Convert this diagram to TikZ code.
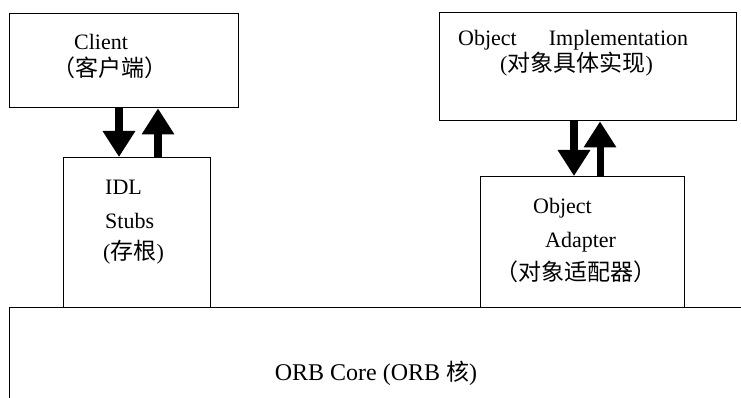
\documentclass[tikz,border=0pt]{standalone}
\usepackage{fontspec}
\setmainfont{Liberation Serif}
\newfontfamily\cjk{Noto Sans CJK SC}
\usetikzlibrary{arrows.meta}
\tikzset{
  box/.style={draw, line width=1.4pt, inner sep=0pt, anchor=north west},
  lbl/.style={inner sep=0pt, anchor=base west, font=\fontsize{22}{26}\selectfont},
  cjklbl/.style={inner sep=0pt, anchor=base west, font=\fontsize{23}{26}\selectfont\cjk},
  bigarrow/.style={line width=8pt, -{Triangle[length=26pt,width=31pt]}}
}
\newcommand{\zh}[1]{{\fontsize{23}{26}\selectfont\cjk #1}}
\begin{document}
\begin{tikzpicture}[x=1pt,y=-1pt]
\useasboundingbox (0,0) rectangle (741,398);
\clip (0,0) rectangle (741,398);
% boxes
\node[box, minimum width=229pt, minimum height=94pt] (client) at (9,13) {};
\node[box, minimum width=147pt, minimum height=150pt] (stubs) at (63,157) {};
\node[box, minimum width=297pt, minimum height=108pt] (impl) at (439,12) {};
\node[box, minimum width=204pt, minimum height=131pt] (adapter) at (480,176) {};
\node[box, minimum width=780pt, minimum height=140pt] (orb) at (9,307) {};
% labels
\node[lbl] (tclient) at (74,50) {Client};
\node[cjklbl] (tclientc) at (52,77) {（客户端）};
\node[lbl] (tidl) at (105,195) {IDL};
\node[lbl] (tstubs) at (105,228) {Stubs};
\node[lbl] (tstubsc) at (103,259) {(\zh{存根})};
\node[lbl] (timpl) at (458,46) {Object\hspace{32pt}Implementation};
\node[lbl] (timplc) at (500,72) {(\zh{对象具体实现})};
\node[lbl] (tobj) at (533,213) {Object};
\node[lbl] (tadapt) at (545,247) {Adapter};
\node[cjklbl] (tadaptc) at (495,280) {（对象适配器）};
\node[lbl, anchor=base, font=\fontsize{24}{28}\selectfont] (torb) at (376,380) {ORB Core (ORB \zh{核})};
% arrows
\draw[bigarrow] (client.south -| 119,0) -- (stubs.north -| 119,0);
\draw[bigarrow] (stubs.north -| 158,0) -- (client.south -| 158,0);
\draw[bigarrow] (impl.south -| 574,0) -- (adapter.north -| 574,0);
\draw[bigarrow,line width=7pt] (adapter.north -| 600,0) -- (impl.south -| 600,0);
\end{tikzpicture}
\end{document}
